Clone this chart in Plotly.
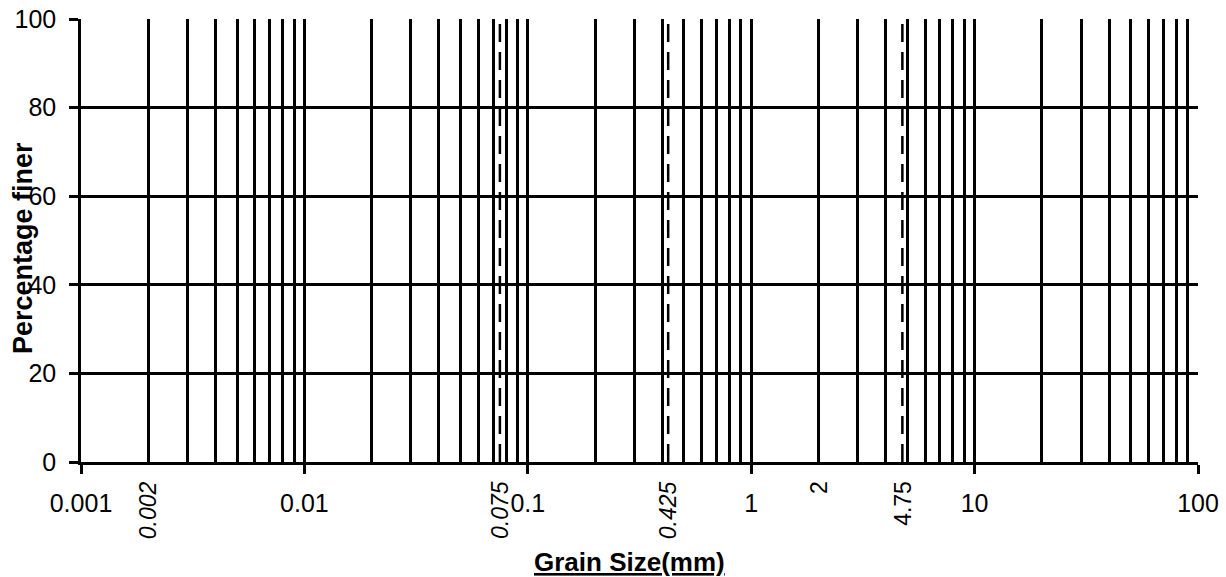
import math
import plotly.graph_objects as go

# Data
decade_ticks = [0.001, 0.01, 0.1, 1, 10, 100]
decade_labels = ["0.001", "0.01", "0.1", "1", "10", "100"]
y_ticks = [0, 20, 40, 60, 80, 100]
sieve_sizes = [0.002, 0.075, 0.425, 4.75]
marker_labels = ["0.002", "0.075", "0.425", "2", "4.75"]
marker_positions = [0.002, 0.075, 0.425, 2, 4.75]
marker_italic = [True, True, True, False, False]

FONT = "Liberation Sans, Arial, sans-serif"
L, R, T, B = 81, 28, 19, 115
PW, PH = 1226 - L - R, 577 - T - B

fig = go.Figure()
for s in sieve_sizes:
    fig.add_trace(go.Scatter(
        x=[s, s], y=[0, 100], mode="lines",
        line=dict(color="black", width=2.5, dash="18px,10px"),
        showlegend=False, hoverinfo="skip"))

for lab, pos, it in zip(marker_labels, marker_positions, marker_italic):
    fig.add_annotation(
        x=math.log10(pos), xref="x", y=-17 / PH, yref="paper",
        text=f"<i>{lab}</i>" if it else lab,
        textangle=-90, showarrow=False, xanchor="center", yanchor="top",
        font=dict(family=FONT, size=23, color="black"))

fig.add_annotation(
    x=(629 - L) / PW, xref="paper", y=-(562 - (T + PH)) / PH, yref="paper",
    text="<b><u>Grain Size(mm)</u></b>", showarrow=False,
    xanchor="center", yanchor="middle",
    font=dict(family=FONT, size=26, color="black"))

fig.add_annotation(
    x=-(L - 23) / PW, xref="paper", y=(T + PH - 248) / PH, yref="paper",
    text="<b>Percentage finer</b>", textangle=-90, showarrow=False,
    xanchor="center", yanchor="middle",
    font=dict(family=FONT, size=27, color="black"))

fig.update_xaxes(
    type="log", range=[-3, 2], automargin=False,
    tickvals=decade_ticks, ticktext=decade_labels,
    ticks="outside", ticklen=9, tickwidth=2.5, tickcolor="black",
    ticklabelstandoff=8,
    showgrid=True, gridcolor="black", gridwidth=2.5,
    minor=dict(dtick="D1", showgrid=True, gridcolor="black", gridwidth=2.5, ticks=""),
    showline=True, linecolor="black", linewidth=2.5,
    zeroline=False,
    tickfont=dict(family=FONT, size=25, color="black"))

fig.update_yaxes(
    range=[0, 100], tickvals=y_ticks, automargin=False,
    ticks="outside", ticklen=9, tickwidth=2.5, tickcolor="black",
    ticklabelstandoff=8,
    showgrid=True, gridcolor="black", gridwidth=2.5,
    showline=True, linecolor="black", linewidth=2.5,
    zeroline=False,
    tickfont=dict(family=FONT, size=25, color="black"))

fig.update_layout(
    width=1226, height=577,
    margin=dict(l=L, r=R, t=T, b=B),
    plot_bgcolor="white", paper_bgcolor="white",
    showlegend=False)

fig.write_html("out.html")
